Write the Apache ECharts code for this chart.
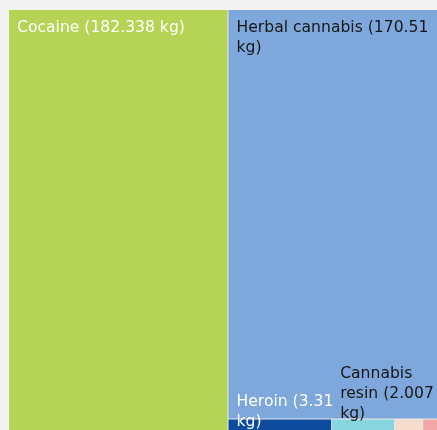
<!DOCTYPE html>
<html>
<head>
<meta charset="utf-8">
<script src="https://cdn.jsdelivr.net/npm/echarts@6/dist/echarts.min.js"></script>
<style>
  html, body { margin: 0; padding: 0; background: #f2f2f2; overflow: hidden; }
  #chart { width: 450px; height: 445px; }
</style>
</head>
<body>
<div id="chart"></div>
<script>
// Seizures by drug type, in kilograms
const drugNames = ['Cocaine', 'Herbal cannabis', 'Heroin', 'Cannabis resin', 'Amphetamine', 'Other drugs'];
const seizedKg = [182.338, 170.51, 3.31, 2.007, 0.9, 0.6];
const drugColors = ['#b5d455', '#7ea7db', '#0d4b9e', '#89d5df', '#f6dccb', '#f2a7a4'];

// Label styling per drug (text colour, placement tweaks for the thin tiles)
const labelStyles = {
  'Cocaine': { color: '#ffffff' },
  'Herbal cannabis': { color: '#161616' },
  'Heroin': { color: '#ffffff', position: [0, -36], padding: [8, -12, -300, 8] },
  'Cannabis resin': { color: '#161616', position: [0, -64], padding: [8, -49, -300, 8] },
  'Amphetamine': { show: false },
  'Other drugs': { show: false }
};

function leaf(i) {
  return {
    name: drugNames[i],
    value: seizedKg[i],
    itemStyle: { color: drugColors[i] },
    label: labelStyles[drugNames[i]]
  };
}

// Each drug splits off from the remaining, smaller ones
function cascade(i) {
  if (i === drugNames.length - 1) return [leaf(i)];
  const rest = cascade(i + 1);
  if (rest.length === 1) return [leaf(i), rest[0]];
  return [leaf(i), { name: drugNames.slice(i + 1).join(' / '), children: rest }];
}

const chart = echarts.init(document.getElementById('chart'), null, { renderer: 'canvas' });
chart.setOption({
  animation: false,
  backgroundColor: '#f2f2f2',
  series: [{
    type: 'treemap',
    left: 9,
    top: 10,
    width: 432,
    height: 425,
    sort: false,
    squareRatio: 1,
    roam: false,
    nodeClick: false,
    silent: true,
    breadcrumb: { show: false },
    visibleMin: 0,
    itemStyle: { borderWidth: 0, gapWidth: 1, borderColor: '#e8e8e8' },
    label: {
      show: true,
      position: 'insideTopLeft',
      distance: 0,
      padding: [8, 4, -300, 8],
      fontFamily: 'DejaVu Sans',
      fontSize: 15.6,
      lineHeight: 20,
      overflow: 'break',
      formatter: p => p.name + ' (' + p.value + ' kg)'
    },
    upperLabel: { show: false },
    data: cascade(0)
  }]
});
</script>
</body>
</html>
